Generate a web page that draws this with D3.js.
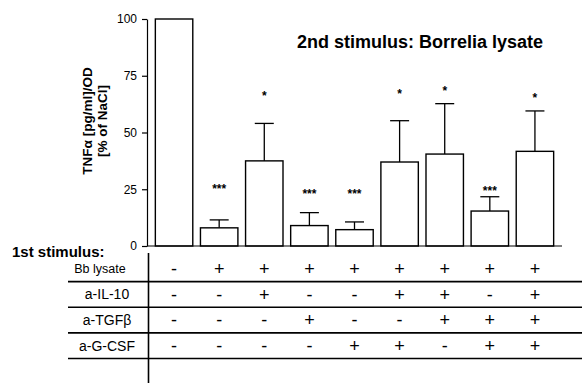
<!DOCTYPE html>
<meta charset="utf-8">
<style>
body { margin: 0; background: #fff; }
svg { font-family: "Liberation Sans", Arial, sans-serif; }
.bar { fill: #fff; stroke: #000; stroke-width: 1.4; }
.err { stroke: #000; stroke-width: 1.3; fill: none; }
.axis path, .axis line { stroke: #000; stroke-width: 1.2; }
.axis text { font-size: 12px; fill: #000; }
.rule { stroke: #000; stroke-width: 1.6; }
</style>
<svg id="chart" width="582" height="383"></svg>
<script src="https://d3js.org/d3.v7.min.js"></script>
<script>

// data
var groups = [0, 1, 2, 3, 4, 5, 6, 7, 8];
var values = [100, 8, 37.5, 9, 7.2, 37, 40.5, 15.4, 41.7];
var errTops = [null, 11.5, 54, 14.7, 10.6, 55.2, 62.7, 21.7, 59.5];
var stars = ["", "***", "*", "***", "***", "*", "*", "***", "*"];
var starLevel = [null, 26, 67, 24, 24, 68, 69, 25, 66];
var yTicks = [0, 25, 50, 75, 100];

var rowNames = ["Bb lysate", "a-IL-10", "a-TGF\u03b2", "a-G-CSF"];
var bbLysate = ["-", "+", "+", "+", "+", "+", "+", "+", "+"];
var antiIL10 = ["-", "-", "+", "-", "-", "+", "+", "-", "+"];
var antiTGFb = ["-", "-", "-", "+", "-", "-", "+", "+", "+"];
var antiGCSF = ["-", "-", "-", "-", "+", "+", "-", "+", "+"];
var signRows = [bbLysate, antiIL10, antiTGFb, antiGCSF];

var svg = d3.select("#chart");

var x = d3.scaleBand()
    .domain(groups)
    .range([147, 562])
    .paddingInner(0.17)
    .paddingOuter(0.185);

var y = d3.scaleLinear()
    .domain([0, 100])
    .range([246, 19]);

// error bars (upper only)
var eb = svg.append("g").selectAll("g")
    .data(groups.filter(function(i) { return errTops[i] != null; }))
  .enter().append("g");
eb.append("line").attr("class", "err")
    .attr("x1", function(i) { return x(i) + x.bandwidth() / 2; })
    .attr("x2", function(i) { return x(i) + x.bandwidth() / 2; })
    .attr("y1", function(i) { return y(values[i]); })
    .attr("y2", function(i) { return y(errTops[i]); });
eb.append("line").attr("class", "err")
    .attr("x1", function(i) { return x(i) + x.bandwidth() / 2 - 9.5; })
    .attr("x2", function(i) { return x(i) + x.bandwidth() / 2 + 9.5; })
    .attr("y1", function(i) { return y(errTops[i]); })
    .attr("y2", function(i) { return y(errTops[i]); });

// bars
svg.append("g").selectAll("rect")
    .data(groups)
  .enter().append("rect")
    .attr("class", "bar")
    .attr("x", function(i) { return x(i); })
    .attr("width", x.bandwidth())
    .attr("y", function(i) { return y(values[i]); })
    .attr("height", function(i) { return y(0) - y(values[i]); });

// significance stars
svg.append("g").selectAll("text")
    .data(groups.filter(function(i) { return stars[i] != ""; }))
  .enter().append("text")
    .attr("x", function(i) { return x(i) + x.bandwidth() / 2; })
    .attr("y", function(i) { return y(starLevel[i]) + 6; })
    .attr("text-anchor", "middle")
    .style("font-size", "12px")
    .style("font-weight", "bold")
    .text(function(i) { return stars[i]; });

// y axis
var yAxis = svg.append("g")
    .attr("class", "axis")
    .attr("transform", "translate(147,0)")
    .call(d3.axisLeft(y).tickValues(yTicks).tickSize(5).tickSizeOuter(0).tickPadding(5));

// baseline
svg.append("line").attr("class", "rule")
    .attr("x1", 147).attr("x2", 562)
    .attr("y1", y(0)).attr("y2", y(0))
    .style("stroke-width", 1.2);

// y axis title
var yt = svg.append("text")
    .attr("transform", "translate(87,121) rotate(-90)")
    .attr("text-anchor", "middle")
    .style("font-size", "13.5px")
    .style("font-weight", "bold");
yt.append("tspan").attr("x", 0).attr("dy", "0.35em").text("TNF\u03b1 [pg/ml]/OD");
yt.append("tspan").attr("x", 0).attr("dy", "15px").text("[% of NaCl]");

// title
svg.append("text")
    .attr("x", 420).attr("y", 48)
    .attr("text-anchor", "middle")
    .style("font-size", "18px")
    .style("font-weight", "bold")
    .text("2nd stimulus: Borrelia lysate");

// first stimulus table
svg.append("text")
    .attr("x", 12).attr("y", 257)
    .style("font-size", "15px")
    .style("font-weight", "bold")
    .text("1st stimulus:");

var row = d3.scaleBand()
    .domain(d3.range(rowNames.length))
    .range([256, 358.5]);

svg.append("line").attr("class", "rule")
    .attr("x1", 148.5).attr("x2", 148.5)
    .attr("y1", 253).attr("y2", 383);

svg.append("g").selectAll("line")
    .data(d3.range(rowNames.length))
  .enter().append("line")
    .attr("class", "rule")
    .attr("x1", 68).attr("x2", 582)
    .attr("y1", function(r) { return row(r) + row.bandwidth(); })
    .attr("y2", function(r) { return row(r) + row.bandwidth(); });

svg.append("g").selectAll("text")
    .data(rowNames)
  .enter().append("text")
    .attr("x", function(d, r) { return r == 0 ? 100 : 107; })
    .attr("y", function(d, r) { return row(r) + row.bandwidth() / 2; })
    .attr("dy", "0.35em")
    .attr("text-anchor", "middle")
    .style("font-size", function(d, r) { return r == 0 ? "12.5px" : "14px"; })
    .text(function(d) { return d; });

signRows.forEach(function(signs, r) {
  svg.append("g").selectAll("text")
      .data(signs)
    .enter().append("text")
      .attr("x", function(s, i) { return x(i) + x.bandwidth() / 2; })
      .attr("y", row(r) + row.bandwidth() / 2)
      .attr("dy", "0.35em")
      .attr("text-anchor", "middle")
      .style("font-size", "18px")
      .text(function(s) { return s; });
});

</script>
